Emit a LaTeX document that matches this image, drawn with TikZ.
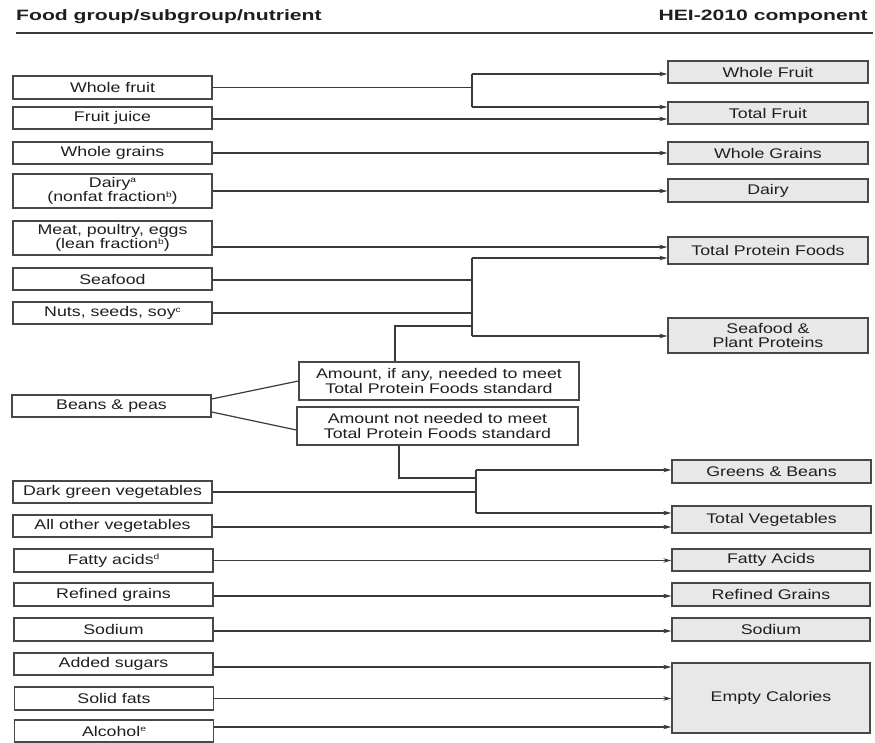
\documentclass[tikz,border=0pt]{standalone}
\usepackage{fontspec}
\setmainfont[FakeStretch=1.27]{Liberation Sans}
\newfontfamily\headfam[FakeStretch=1.41]{Liberation Sans}
\usetikzlibrary{arrows.meta}
\definecolor{inkc}{HTML}{1E1E1E}
\definecolor{linec}{HTML}{3A3A3A}
\definecolor{boxc}{HTML}{484848}
\definecolor{fillc}{HTML}{E8E8E8}
\newcommand\bodyf{\fontsize{14}{14.5}\selectfont\color{inkc}}
\newcommand\supx[1]{\raisebox{4.5pt}{\fontsize{8}{8}\selectfont #1}}
\begin{document}
\begin{tikzpicture}[x=1pt,y=-1pt,
  lbox/.style={draw=boxc, line width=1.3pt, minimum width=199pt, minimum height=22pt,
               inner sep=0pt, align=center, font=\bodyf},
  rbox/.style={lbox, fill=fillc, minimum width=200pt},
  conn/.style={draw=linec, line width=1.2pt},
  arr/.style={conn, -{Stealth[length=8pt,width=4.5pt]}}]
\useasboundingbox (0,0) rectangle (875,743);

% column headings
\node[anchor=base west, inner sep=0pt, font=\headfam\bfseries\fontsize{15}{15}\selectfont, text=inkc]
  (hl) at (16,21) {Food group/subgroup/nutrient};
\node[anchor=base east, inner sep=0pt, font=\headfam\bfseries\fontsize{15}{15}\selectfont, text=inkc]
  (hr) at (868,21) {HEI-2010 component};
\draw[linec, line width=1.6pt] (hl.west |- 0,33) -- (873,33);

% food groups, subgroups and nutrients
\node[lbox, minimum height=23pt] (wf) at (112.5,87.5) {Whole fruit};
\node[lbox] (fj) at (112.5,118) {Fruit juice};
\node[lbox] (wg) at (112.5,153) {Whole grains};
\node[lbox, minimum height=34pt] (dy) at (112.5,191) {Dairy\supx{a}\\(nonfat fraction\supx{b})};
\node[lbox, minimum height=34pt] (mt) at (112.5,238) {Meat, poultry, eggs\\(lean fraction\supx{b})};
\node[lbox] (sf) at (112.5,279) {Seafood};
\node[lbox] (ns) at (112.5,313) {Nuts, seeds, soy\supx{c}};
\node[lbox] (bp) at (111.5,406) {Beans \& peas};
\node[lbox] (dg) at (112.5,492) {Dark green vegetables};
\node[lbox] (ao) at (112.5,526) {All other vegetables};
\node[lbox, minimum height=23pt] (fa) at (113.5,560.5) {Fatty acids\supx{d}};
\node[lbox, minimum height=23pt] (rg) at (113.5,594.5) {Refined grains};
\node[lbox, minimum height=23pt] (so) at (113.5,629.5) {Sodium};
\node[lbox] (as) at (113.5,664) {Added sugars};
\node[lbox, minimum height=23pt] (sft) at (114,698.5) {Solid fats};
\node[lbox] (al) at (114,731) {Alcohol\supx{e}};

% beans & peas split
\node[lbox, minimum width=280pt, minimum height=38pt] (a1) at (439,381)
  {Amount, if any, needed to meet\\Total Protein Foods standard};
\node[lbox, minimum width=281pt, minimum height=38pt] (a2) at (437.5,426)
  {Amount not needed to meet\\Total Protein Foods standard};

% HEI-2010 components
\node[rbox] (WF) at (768,72) {Whole Fruit};
\node[rbox] (TF) at (768,113) {Total Fruit};
\node[rbox] (WG) at (768,153) {Whole Grains};
\node[rbox, minimum height=23pt] (DY) at (768,190.5) {Dairy};
\node[rbox, minimum height=27pt] (TPF) at (768,250.5) {Total Protein Foods};
\node[rbox, minimum height=35pt] (SPP) at (768,335.5) {Seafood \&\\Plant Proteins};
\node[rbox, minimum width=199pt, minimum height=23pt] (GB) at (771.5,471.5) {Greens \& Beans};
\node[rbox, minimum width=199pt, minimum height=27pt] (TV) at (771.5,519.5) {Total Vegetables};
\node[rbox, minimum width=198pt] (FA) at (771,560) {Fatty Acids};
\node[rbox, minimum width=198pt, minimum height=23pt] (RG) at (771,594.5) {Refined Grains};
\node[rbox, minimum width=198pt, minimum height=23pt] (SO) at (771,629.5) {Sodium};
\node[rbox, minimum width=198pt, minimum height=70pt] (EC) at (771,698) {Empty Calories};

% junction points
\coordinate (jfT) at (472,74);
\coordinate (jfB) at (472,107);
\coordinate (jpT) at (472,258);
\coordinate (jpB) at (472,336);
\coordinate (k1) at (395,326);
\coordinate (k2) at (399,478);
\coordinate (jvT) at (476,470);
\coordinate (jvB) at (476,513);

% fruit
\draw[conn] (wf.east) -- (wf.east -| jfT);
\draw[conn] (jfT) -- (jfB);
\draw[arr] (jfT) -- (WF.west |- jfT);
\draw[arr] (jfB) -- (TF.west |- jfB);
\draw[arr] ([yshift=-1pt]fj.east) -- ([yshift=-1pt]fj.east -| TF.west);

% grains and dairy
\draw[arr] (wg.east) -- (wg.east -| WG.west);
\draw[arr] (dy.east) -- (dy.east -| DY.west);

% protein foods
\draw[arr] ([yshift=-9pt]mt.east) -- ([yshift=-9pt]mt.east -| TPF.west);
\draw[conn] (jpT) -- (jpB);
\draw[arr] (jpT) -- (TPF.west |- jpT);
\draw[arr] (jpB) -- (SPP.west |- jpB);
\draw[conn] ([yshift=-1pt]sf.east) -- ([yshift=-1pt]sf.east -| jpT);
\draw[conn] (ns.east) -- (ns.east -| jpT);
\draw[conn] (a1.north -| k1) -- (k1) -- (k1 -| jpT);

% beans & peas
\draw[conn] ([yshift=7pt]bp.east) -- (a1.west);
\draw[conn] ([yshift=-6pt]bp.east) -- ([yshift=-4pt]a2.west);

% vegetables
\draw[conn] (a2.south -| k2) -- (k2) -- (k2 -| jvT);
\draw[conn] (jvT) -- (jvB);
\draw[conn] (dg.east) -- (dg.east -| jvT);
\draw[arr] (jvT) -- (GB.west |- jvT);
\draw[arr] (jvB) -- (TV.west |- jvB);
\draw[arr] ([yshift=-1pt]ao.east) -- ([yshift=-1pt]ao.east -| TV.west);

% fatty acids, refined grains, sodium
\draw[arr] (fa.east) -- (fa.east -| FA.west);
\draw[arr] ([yshift=-1.5pt]rg.east) -- ([yshift=-1.5pt]rg.east -| RG.west);
\draw[arr] ([yshift=-1.5pt]so.east) -- ([yshift=-1.5pt]so.east -| SO.west);

% empty calories
\draw[arr] ([yshift=-3pt]as.east) -- ([yshift=-3pt]as.east -| EC.west);
\draw[arr] (sft.east) -- (sft.east -| EC.west);
\draw[arr] ([yshift=4pt]al.east) -- ([yshift=4pt]al.east -| EC.west);
\end{tikzpicture}
\end{document}
